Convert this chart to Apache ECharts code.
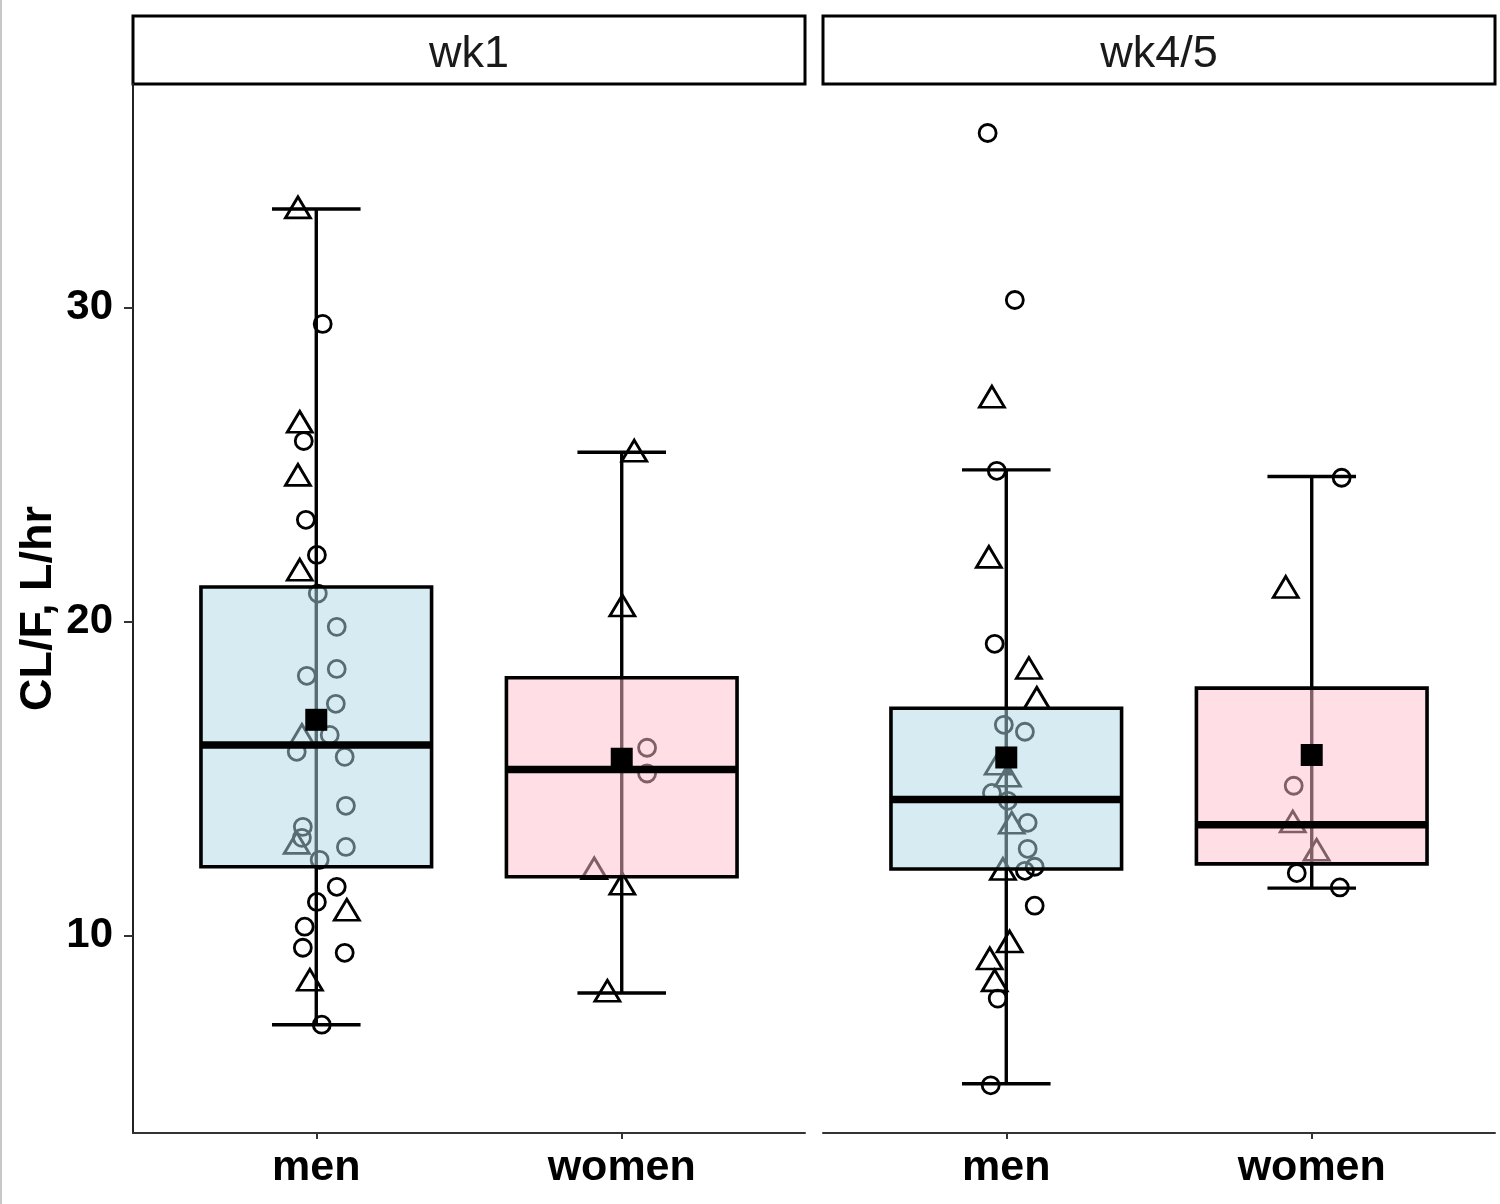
<!DOCTYPE html>
<html>
<head>
<meta charset="utf-8">
<title>CL/F by sex and week</title>
<script src="https://cdn.jsdelivr.net/npm/echarts@6/dist/echarts.min.js"></script>
<style>
  html, body { margin: 0; padding: 0; background: #fff; }
  #chart { width: 1500px; height: 1204px; }
</style>
</head>
<body>
<div id="chart"></div>
<script>
  // facets and groups
  const panels = ['wk1', 'wk4/5'];
  const groups = ['men', 'women'];
  const yTicks = [10, 20, 30];

  // box stats per group: lower whisker, Q1, median, Q3, upper whisker
  const wk1Box = [
    [7.17, 12.2, 16.08, 21.11, 33.15],
    [8.18, 11.88, 15.3, 18.22, 25.4]
  ];
  const wk45Box = [
    [5.29, 12.13, 14.34, 17.25, 24.84],
    [11.52, 12.29, 13.54, 17.89, 24.63]
  ];
  const wk1Mean = [16.88, 15.64];
  const wk45Mean = [15.68, 15.76];

  // jittered observations: [group position, CL/F]
  const wk1Circles = [
    [1.021, 29.49], [0.959, 25.76], [0.966, 23.25], [1.002, 22.13], [1.005, 20.9],
    [1.067, 19.84], [1.067, 18.5], [0.969, 18.28], [1.064, 17.39], [1.044, 16.4],
    [0.936, 15.86], [1.093, 15.7], [1.097, 14.14], [0.956, 13.47], [0.953, 13.12],
    [1.097, 12.83], [1.011, 12.42], [1.067, 11.56], [1.002, 11.08], [0.962, 10.29],
    [0.956, 9.62], [1.093, 9.46], [1.018, 7.17],
    [2.083, 15.99], [2.083, 15.17]
  ];
  const wk1Triangles = [
    [0.94, 33.2], [0.946, 26.37], [0.94, 24.68], [0.946, 21.66], [0.953, 16.4],
    [0.936, 12.96], [1.10, 10.83], [0.979, 8.6],
    [2.041, 25.45], [2.002, 20.52], [1.91, 12.15], [2.002, 11.66], [1.953, 8.25]
  ];
  const wk45Circles = [
    [0.939, 35.57], [1.028, 30.25], [0.969, 24.81], [0.962, 19.3], [0.992, 16.72],
    [1.061, 16.5], [0.953, 14.55], [1.005, 14.3], [1.07, 13.6], [1.07, 12.77],
    [1.093, 12.2], [1.061, 12.07], [1.093, 10.96], [0.972, 8.0], [0.949, 5.24],
    [2.098, 24.59], [1.941, 14.78], [1.951, 12.0], [2.092, 11.54]
  ];
  const wk45Triangles = [
    [0.953, 27.17], [0.943, 22.07], [1.074, 18.53], [1.10, 17.58], [0.972, 15.48],
    [1.005, 15.1], [1.018, 13.6], [0.989, 12.13], [1.011, 9.82], [0.946, 9.28],
    [0.962, 8.58],
    [1.915, 21.11], [1.938, 13.64], [2.016, 12.74]
  ];

  const boxes = [wk1Box, wk45Box];
  const means = [wk1Mean, wk45Mean];
  const circles = [wk1Circles, wk45Circles];
  const triangles = [wk1Triangles, wk45Triangles];

  const fills = ['rgba(173,216,230,0.5)', 'rgba(255,192,203,0.5)'];

  function renderWhisker (params, api) {
    const x = api.value(0);
    const lo = api.coord([x, api.value(1)]);
    const hi = api.coord([x, api.value(5)]);
    const cap = api.size([0.29, 0])[0] / 2;
    const st = { stroke: '#000', lineWidth: 3.4 };
    return {
      type: 'group',
      children: [
        { type: 'line', shape: { x1: lo[0], y1: lo[1], x2: hi[0], y2: hi[1] }, style: st },
        { type: 'line', shape: { x1: lo[0] - cap, y1: lo[1], x2: lo[0] + cap, y2: lo[1] }, style: st },
        { type: 'line', shape: { x1: hi[0] - cap, y1: hi[1], x2: hi[0] + cap, y2: hi[1] }, style: st }
      ]
    };
  }

  function renderBox (params, api) {
    const x = api.value(0);
    const q1 = api.coord([x, api.value(2)]);
    const med = api.coord([x, api.value(3)]);
    const q3 = api.coord([x, api.value(4)]);
    const half = api.size([0.755, 0])[0] / 2;
    return {
      type: 'group',
      children: [
        {
          type: 'rect',
          shape: { x: q3[0] - half, y: q3[1], width: half * 2, height: q1[1] - q3[1] },
          style: { fill: fills[params.dataIndex], stroke: '#000', lineWidth: 3.6 }
        },
        {
          type: 'line',
          shape: { x1: med[0] - half, y1: med[1], x2: med[0] + half, y2: med[1] },
          style: { stroke: '#000', lineWidth: 7.5 }
        }
      ]
    };
  }

  const grids = [
    { left: 133, width: 672, top: 84, bottom: 71 },
    { left: 823, width: 672, top: 84, bottom: 71 }
  ];

  const xAxes = panels.map((p, i) => ({
    type: 'value',
    gridIndex: i,
    min: 0.4,
    max: 2.6,
    axisLine: { show: true, lineStyle: { color: '#333', width: 2 } },
    axisTick: { show: true, customValues: [1, 2], length: 6, lineStyle: { color: '#333', width: 2 } },
    axisLabel: {
      customValues: [1, 2],
      formatter: (v) => groups[Math.round(v) - 1],
      color: '#000',
      fontSize: 43,
      fontWeight: 'bold',
      fontFamily: 'Liberation Sans',
      margin: 14
    },
    splitLine: { show: false }
  }));

  const yAxes = panels.map((p, i) => ({
    type: 'value',
    gridIndex: i,
    min: 3.72,
    max: 37.13,
    name: i === 0 ? 'CL/F, L/hr' : '',
    nameLocation: 'middle',
    nameRotate: 90,
    nameGap: 72,
    nameTextStyle: { color: '#000', fontSize: 45, fontWeight: 'bold', fontFamily: 'Liberation Sans' },
    axisLine: { show: i === 0, lineStyle: { color: '#222', width: 2 } },
    axisTick: { show: i === 0, customValues: yTicks, length: 9, lineStyle: { color: '#333', width: 2 } },
    axisLabel: {
      show: i === 0,
      customValues: yTicks,
      color: '#000',
      fontSize: 42,
      fontWeight: 'bold',
      fontFamily: 'Liberation Sans',
      margin: 20
    },
    splitLine: { show: false }
  }));

  const series = [];
  panels.forEach((p, i) => {
    const statRows = boxes[i].map((b, g) => [g + 1].concat(b));
    series.push({
      type: 'custom',
      name: p + ' whisker',
      xAxisIndex: i,
      yAxisIndex: i,
      z: 1,
      renderItem: renderWhisker,
      encode: { x: 0, y: [1, 2, 3, 4, 5] },
      data: statRows
    });
    series.push({
      type: 'scatter',
      name: p + ' circles',
      xAxisIndex: i,
      yAxisIndex: i,
      z: 2,
      symbol: 'circle',
      symbolSize: 17,
      itemStyle: { color: 'rgba(0,0,0,0)', borderColor: '#000', borderWidth: 2.8, opacity: 1 },
      data: circles[i]
    });
    series.push({
      type: 'scatter',
      name: p + ' triangles',
      xAxisIndex: i,
      yAxisIndex: i,
      z: 2,
      symbol: 'triangle',
      symbolSize: [25, 21],
      itemStyle: { color: 'rgba(0,0,0,0)', borderColor: '#000', borderWidth: 2.8, opacity: 1 },
      data: triangles[i]
    });
    series.push({
      type: 'custom',
      name: p + ' box',
      xAxisIndex: i,
      yAxisIndex: i,
      z: 3,
      renderItem: renderBox,
      encode: { x: 0, y: [1, 2, 3, 4, 5] },
      data: statRows
    });
    series.push({
      type: 'scatter',
      name: p + ' mean',
      xAxisIndex: i,
      yAxisIndex: i,
      z: 4,
      symbol: 'rect',
      symbolSize: 22,
      itemStyle: { color: '#000', opacity: 1 },
      data: means[i].map((m, g) => [g + 1, m])
    });
  });

  // facet strips
  const graphics = [
    { type: 'line', shape: { x1: 1, y1: 0, x2: 1, y2: 1204 }, style: { stroke: '#c8c8c8', lineWidth: 2 } }
  ];
  panels.forEach((p, i) => {
    const g = grids[i];
    graphics.push({
      type: 'rect',
      shape: { x: g.left, y: 16, width: g.width, height: 68 },
      style: { fill: '#fff', stroke: '#000', lineWidth: 3 }
    });
    graphics.push({
      type: 'text',
      x: g.left + g.width / 2,
      y: 55,
      style: {
        text: p,
        fill: '#1a1a1a',
        font: '45px "Liberation Sans"',
        textAlign: 'center',
        textVerticalAlign: 'middle'
      }
    });
  });

  const myChart = echarts.init(document.getElementById('chart'), null, { renderer: 'canvas' });
  myChart.setOption({
    animation: false,
    backgroundColor: '#fff',
    grid: grids,
    xAxis: xAxes,
    yAxis: yAxes,
    graphic: graphics,
    series: series
  });
</script>
</body>
</html>
